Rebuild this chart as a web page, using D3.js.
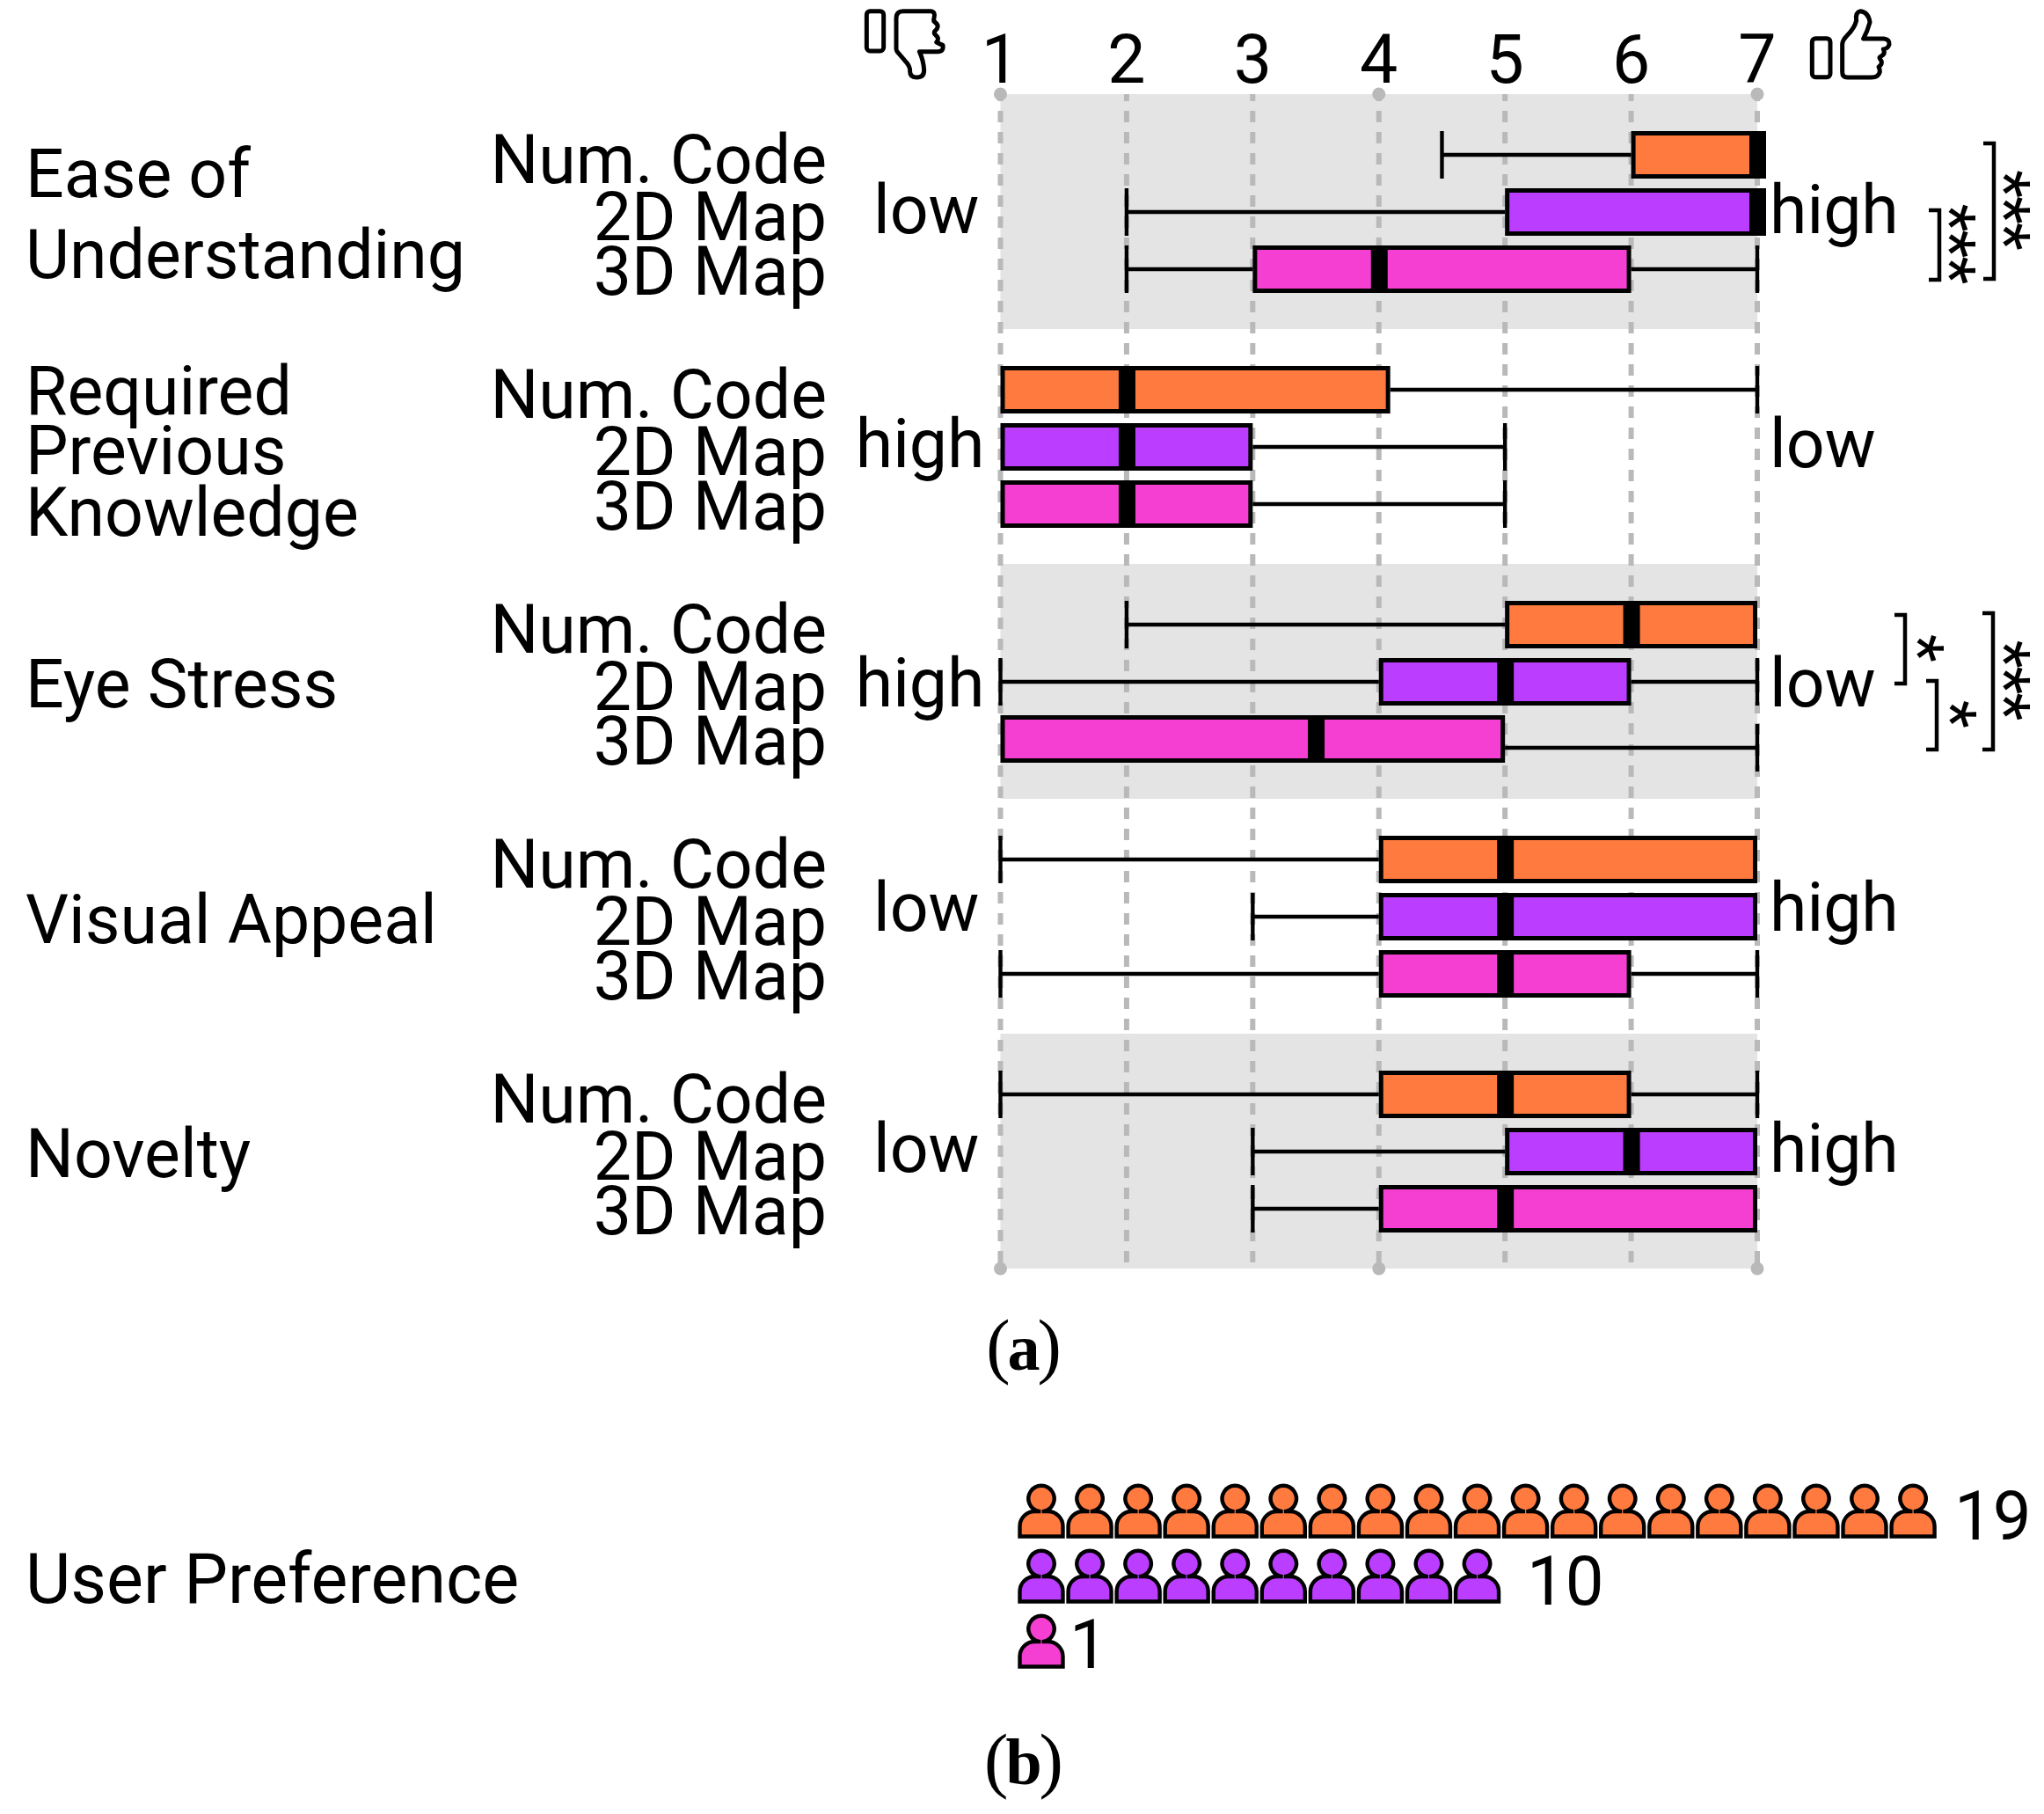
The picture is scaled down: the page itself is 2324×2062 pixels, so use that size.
<!DOCTYPE html>
<html>
<head>
<meta charset="utf-8">
<script src="https://cdn.jsdelivr.net/npm/d3@7/dist/d3.min.js"></script>
<style>
html,body{margin:0;padding:0;background:#fff}
svg{display:block}
text{font-family:Roboto,sans-serif;fill:#000}
</style>
</head>
<body>
<svg id="c" width="2324" height="2062" viewBox="0 0 2324 2062"></svg>
<script>
// ---- data ----
const metrics = ["Ease of Understanding","Required Previous Knowledge","Eye Stress","Visual Appeal","Novelty"];
const metricLines = [["Ease of","Understanding"],["Required","Previous","Knowledge"],["Eye Stress"],["Visual Appeal"],["Novelty"]];
const groups = ["Num. Code","2D Map","3D Map"];
const ticks = [1,2,3,4,5,6,7];
const leftPole = ["low","high","high","low","low"];
const rightPole = ["high","low","low","high","high"];
// per metric, per group
const whiskerLow = [[4.5,2,2],[1,1,1],[2,1,1],[1,3,1],[1,3,3]];
const quart1     = [[6,5,3],[1,1,1],[5,4,1],[4,4,4],[4,5,4]];
const medians    = [[7,7,4],[2,2,2],[6,5,3.5],[5,5,5],[5,6,5]];
const quart3     = [[7,7,6],[4.09,3,3],[7,6,5],[7,7,6],[6,7,7]];
const whiskerHigh= [[7,7,7],[7,5,5],[7,7,7],[7,7,7],[7,7,7]];
// significance brackets
const sigMetric = [0,0,2,2,2];
const sigFrom   = [1,0,0,1,0];
const sigTo     = [2,2,1,2,2];
const sigStars  = ["***","***","*","*","***"];
// preference
const prefCounts = [19,10,1];

// ---- layout ----
const colors = ["#ff7a3f","#bb3dff","#f53fd3"];
const svg = d3.select("#c");
const x = d3.scaleLinear().domain([1,7]).range([1137.5,1998]);
const panelY = d3.scaleLinear().domain([0,metrics.length]).range([107,1442]);
const rowY = d3.scaleLinear().domain([0,2]).range([69,199]);
const yc = (m,g)=>panelY(m)+rowY(g);
const FS = 77;

// bands
svg.append("g").selectAll("rect").data(metrics.map((d,i)=>i).filter(i=>i%2===0)).join("rect")
  .attr("x",x(1)).attr("width",x(7)-x(1))
  .attr("y",d=>panelY(d)).attr("height",d=>panelY(d+1)-panelY(d))
  .attr("fill","#e4e4e4");

// grid
svg.append("g").selectAll("line").data(ticks).join("line")
  .attr("x1",d=>x(d)).attr("x2",d=>x(d))
  .attr("y1",panelY(0)).attr("y2",panelY(metrics.length))
  .attr("stroke","#b9b9b9").attr("stroke-width",6)
  .attr("stroke-dasharray","13 11").attr("stroke-dashoffset",5);
// end dots
const dotTicks=[1,4,7];
[panelY(0),panelY(metrics.length)].forEach(y=>{
  svg.append("g").selectAll("circle").data(dotTicks).join("circle")
    .attr("cx",d=>x(d)).attr("cy",y).attr("r",7.5).attr("fill","#b9b9b9");
});

// tick labels
svg.append("g").selectAll("text").data(ticks).join("text")
  .attr("x",d=>x(d)).attr("y",94).attr("text-anchor","middle")
  .attr("font-size",FS).text(d=>d);

// boxplots
const boxH=54, sw=5, medW=19;
metrics.forEach((mName,m)=>{
  const g=svg.append("g");
  groups.forEach((gName,k)=>{
    const y=yc(m,k);
    const lo=whiskerLow[m][k],q1=quart1[m][k],md=medians[m][k],q3=quart3[m][k],hi=whiskerHigh[m][k];
    // the reference draws this one upper whisker slightly below its box
    const hiY = (m===2&&k===2) ? y+10 : y;
    if(lo<q1){
      g.append("line").attr("x1",x(lo)).attr("x2",x(q1)).attr("y1",y).attr("y2",y).attr("stroke","#000").attr("stroke-width",4.6);
      g.append("line").attr("x1",x(lo)).attr("x2",x(lo)).attr("y1",y-27).attr("y2",y+27).attr("stroke","#000").attr("stroke-width",4.4);
    }
    if(hi>q3){
      g.append("line").attr("x1",x(q3)).attr("x2",x(hi)).attr("y1",hiY).attr("y2",hiY).attr("stroke","#000").attr("stroke-width",4.6);
      g.append("line").attr("x1",x(hi)).attr("x2",x(hi)).attr("y1",hiY-27).attr("y2",hiY+27).attr("stroke","#000").attr("stroke-width",4.4);
    }
    // box
    g.append("rect").attr("x",x(q1)+sw/2).attr("width",x(q3)-x(q1)-sw)
      .attr("y",y-boxH/2+sw/2).attr("height",boxH-sw)
      .attr("fill",colors[k]).attr("stroke","#000").attr("stroke-width",sw);
    // median
    g.append("rect").attr("x",x(md)-medW/2+0.5).attr("width",medW)
      .attr("y",y-boxH/2).attr("height",boxH).attr("fill","#000");
    // group label
    svg.append("text").attr("x",940).attr("y",y+[32,32,29][k]).attr("text-anchor","end")
      .attr("font-size",FS).text(gName);
  });
});

// metric labels
const metricBase=[[224,316],[471,539,609],[804],[1072],[1338]];
metricLines.forEach((lines,m)=>{
  lines.forEach((t,i)=>{
    svg.append("text").attr("x",29).attr("y",metricBase[m][i]).attr("font-size",FS).text(t);
  });
});
svg.append("text").attr("x",29).attr("y",1822).attr("font-size",79).text("User Preference");

// poles
const poleBase=[265,531,803,1058,1332];
const poleEnd={low:1113.5,high:1119.5};
metrics.forEach((d,m)=>{
  svg.append("text").attr("x",poleEnd[leftPole[m]]).attr("y",poleBase[m]).attr("text-anchor","end").attr("font-size",FS).text(leftPole[m]);
  svg.append("text").attr("x",2012).attr("y",poleBase[m]).attr("text-anchor","start").attr("font-size",FS).text(rightPole[m]);
});

// significance
const sigX=[2207,2269,2168,2204,2268];
const sigPadTop=[2,13,11,1,13];
const sigPadBot=[12,11,2,12,12];
const starX=[2234,2296,2198,2235,2296];
const starSize=74;
sigMetric.forEach((m,i)=>{
  const y0=yc(m,sigFrom[i])-sigPadTop[i], y1=yc(m,sigTo[i])+sigPadBot[i];
  svg.append("path").attr("d",`M${sigX[i]-14} ${y0}H${sigX[i]-2}V${y1}H${sigX[i]-14}`)
    .attr("fill","none").attr("stroke","#000").attr("stroke-width",4.5);
  svg.append("text").attr("font-size",starSize).attr("text-anchor","middle").attr("letter-spacing",-2)
    .attr("transform",`translate(${starX[i]-starSize*0.55},${(y0+y1)/2-2}) rotate(90)`)
    .text(sigStars[i]);
});

// thumbs (icon outlines in 3x local units)
const thumb = svg.append("g").attr("fill","none").attr("stroke","#000").attr("stroke-width",15).attr("stroke-linejoin","round").attr("stroke-linecap","round");
const tDown=thumb.append("g").attr("transform","translate(970,0) scale(0.3333)");
tDown.append("rect").attr("x",46).attr("y",38).attr("width",58).attr("height",136).attr("rx",12);
tDown.append("path").attr("d","M147 62Q147 38 170 38H265Q282 40 276 62Q272 72 282 78Q296 90 280 105Q272 112 282 120Q296 132 284 144Q296 150 306 154Q310 176 288 176H226Q240 205 242 240Q242 264 216 264Q194 264 194 244Q196 226 176 206L150 176Q146 170 147 160Z");
const tUp=thumb.append("g").attr("transform","translate(2040,0) scale(0.3333)");
tUp.append("rect").attr("x",61).attr("y",131).attr("width",62).attr("height",132).attr("rx",12);
tUp.append("path").attr("d","M164 150Q166 136 178 124Q206 96 212 70Q208 42 226 38Q254 42 258 76Q250 106 236 132H306Q326 134 324 152Q320 166 304 168Q312 184 296 192Q288 196 292 200Q306 216 288 228Q298 246 284 258Q278 264 262 264H182Q164 264 164 246Z");

// preference
const pX=d3.scaleLinear().domain([0,1]).range([1184,1239.06]);
const pY=d3.scaleLinear().domain([0,1,2]).range([1746.5,1820.5,1894.5]);
function person(cx,b){
  const top=b-28.5, hy=b-43, r=14.7, l=cx-24.5, rr=cx+24.5, n=2.8, c=17;
  const dy=Math.sqrt(r*r-n*n);
  return `M${l} ${b}V${top+c}A${c} ${c} 0 0 1 ${l+c} ${top}H${cx-n}V${hy+dy}A${r} ${r} 0 1 1 ${cx+n} ${hy+dy}V${top}H${rr-c}A${c} ${c} 0 0 1 ${rr} ${top+c}V${b}Z`;
}
prefCounts.forEach((c,k)=>{
  svg.append("g").selectAll("path").data(d3.range(c)).join("path")
    .attr("d",i=>person(pX(i),pY(k)))
    .attr("fill",colors[k]).attr("stroke","#000").attr("stroke-width",4.4).attr("stroke-linejoin","miter");
});
const countX=[2222,1736,1216];
const countBase=[1750,1824,1896];
prefCounts.forEach((c,k)=>{
  svg.append("text").attr("x",countX[k]).attr("y",countBase[k]).attr("font-size",78).text(c);
});

// captions
[["a",1557],["b",2028]].forEach(([t,y])=>{
  const c=svg.append("text").attr("x",1164).attr("y",y).attr("text-anchor","middle")
    .style("font-family","'Liberation Serif',serif").attr("font-size",82);
  c.append("tspan").text("(");
  c.append("tspan").attr("dx",-3).attr("font-size",74).attr("font-weight",700).text(t);
  c.append("tspan").attr("dx",-3).text(")");
});
</script>
</body>
</html>
